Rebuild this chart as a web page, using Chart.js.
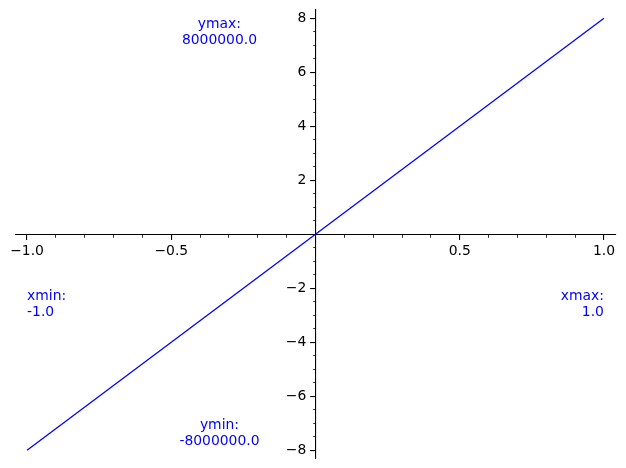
<!DOCTYPE html>
<html>
<head>
<meta charset="utf-8">
<script src="https://cdn.jsdelivr.net/npm/chart.js@4.4.0/dist/chart.umd.min.js"></script>
<style>
    html, body { margin: 0; padding: 0; background: #fff; }
    #wrap { width: 626px; height: 468px; position: relative; }
</style>
</head>
<body>
<div id="wrap"><canvas id="plot"></canvas></div>
<script>
// line y = 8x, read at the ends and the origin
const xValues = [-1, 0, 1];
const yValues = [-8, 0, 8];

// axis ranges (data range plus a small margin)
const xRange = [-1.04, 1.04];
const yRange = [-8.32, 8.32];

// ticks
const xMajorTicks = [-1, -0.5, 0.5, 1];
const xMinorTicks = [-0.9, -0.8, -0.7, -0.6, -0.4, -0.3, -0.2, -0.1,
    0.1, 0.2, 0.3, 0.4, 0.6, 0.7, 0.8, 0.9];
const yMajorTicks = [-8, -6, -4, -2, 2, 4, 6, 8];
const yMinorTicks = [-7.5, -7, -6.5, -5.5, -5, -4.5, -3.5, -3, -2.5, -1.5, -1, -0.5,
    0.5, 1, 1.5, 2.5, 3, 3.5, 4.5, 5, 5.5, 6.5, 7, 7.5];

// text notes, anchored in data coordinates
const noteLines = [["ymax:", "8000000.0"], ["ymin:", "-8000000.0"], ["xmin:", "-1.0"], ["xmax:", "1.0"]];
const noteX = [-0.333, -0.333, -1, 1];
const noteY = [7.48, -7.38, -2.59, -2.59];
const noteAlign = ["center", "center", "left", "right"];

const FONT = "DejaVu Sans";
const FONT_SIZE = 13.9;
Chart.defaults.font.family = FONT;
Chart.defaults.font.size = FONT_SIZE;
Chart.defaults.color = "#000";

const minus = (s) => s.replace("-", "\u2212");

// axes sit in the middle of the plot, so they should not take layout room
const noRoom = (scale) => {
    if (scale.isHorizontal()) scale.height = 0;
    else scale.width = 0;
    scale.paddingTop = 0;
    scale.paddingBottom = 0;
    scale.paddingLeft = 0;
    scale.paddingRight = 0;
};

const notesPlugin = {
    id: "notes",
    afterDatasetsDraw(chart) {
        const { ctx } = chart;
        const xs = chart.scales.x;
        const ys = chart.scales.y;
        const lh = 16.3;
        ctx.save();
        ctx.fillStyle = "#0000ff";
        ctx.font = `${FONT_SIZE}px "${FONT}"`;
        ctx.textBaseline = "middle";
        noteLines.forEach((lines, i) => {
            const px = xs.getPixelForValue(noteX[i]);
            const py = ys.getPixelForValue(noteY[i]);
            ctx.textAlign = noteAlign[i];
            lines.forEach((t, j) => {
                ctx.fillText(t, px, py + (j - (lines.length - 1) / 2) * lh);
            });
        });
        ctx.restore();
    }
};

function majorAxis(axis, range, ticks, fmt) {
    return {
        type: "linear",
        axis: axis,
        position: "center",
        min: range[0],
        max: range[1],
        afterBuildTicks: (s) => { s.ticks = ticks.map((v) => ({ value: v })); },
        afterFit: noRoom,
        grid: {
            drawOnChartArea: false,
            drawTicks: true,
            tickLength: 4.9,
            tickWidth: 1.1,
            tickColor: "#000",
            lineWidth: 1.1,
            color: "#000"
        },
        border: { display: true, color: "#000", width: 1.1 },
        ticks: {
            autoSkip: false,
            maxRotation: 0,
            padding: 4.3,
            color: "#000",
            font: { family: FONT, size: FONT_SIZE },
            callback: fmt
        }
    };
}

function minorAxis(axis, range, ticks) {
    return {
        type: "linear",
        axis: axis,
        position: "center",
        min: range[0],
        max: range[1],
        afterBuildTicks: (s) => { s.ticks = ticks.map((v) => ({ value: v })); },
        afterFit: noRoom,
        grid: {
            drawOnChartArea: false,
            drawTicks: true,
            tickLength: 2.8,
            tickWidth: 0.8,
            tickColor: "#000",
            lineWidth: 0.8
        },
        border: { display: false },
        ticks: { display: false, autoSkip: false }
    };
}

const points = xValues.map((x, i) => ({ x: x, y: yValues[i] }));

new Chart(document.getElementById("plot"), {
    type: "scatter",
    data: {
        datasets: [{
            data: points,
            showLine: true,
            borderColor: "#0000ff",
            borderWidth: 1.3,
            pointRadius: 0,
            fill: false,
            xAxisID: "x",
            yAxisID: "y"
        }]
    },
    options: {
        responsive: true,
        maintainAspectRatio: false,
        animation: false,
        layout: { padding: { left: 15.5, right: 10.5, top: 9.7, bottom: 9.1 } },
        plugins: { legend: { display: false }, tooltip: { enabled: false } },
        scales: {
            x: majorAxis("x", xRange, xMajorTicks, (v) => minus(v.toFixed(1))),
            xMinor: minorAxis("x", xRange, xMinorTicks),
            y: majorAxis("y", yRange, yMajorTicks, (v) => minus(String(v))),
            yMinor: minorAxis("y", yRange, yMinorTicks)
        }
    },
    plugins: [notesPlugin]
});
</script>
</body>
</html>
